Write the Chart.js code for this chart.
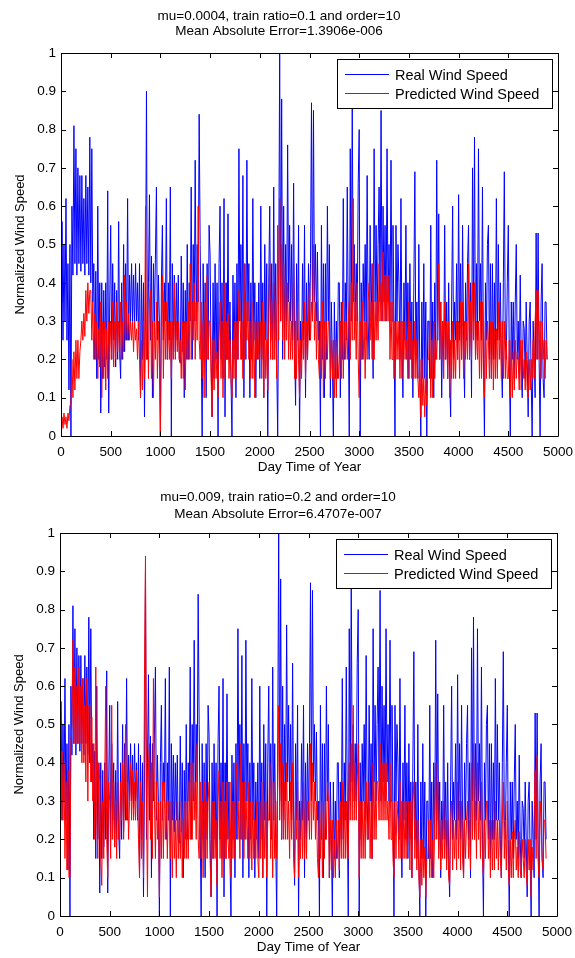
<!DOCTYPE html>
<html>
<head>
<meta charset="utf-8">
<script src="https://cdn.jsdelivr.net/npm/chart.js@4.4.1/dist/chart.umd.min.js"></script>
<style>
  html, body { margin: 0; padding: 0; background: #fff; }
  #wrap { position: relative; width: 575px; height: 958px; overflow: hidden; }
  canvas { position: absolute; }
</style>
</head>
<body>
<div id="wrap">
  <canvas id="topChart" width="575" height="480" style="left:0;top:0"></canvas>
  <canvas id="bottomChart" width="575" height="480" style="left:-1px;top:480px"></canvas>
</div>
<script>
// sampling step of the series (day time units), one row = 100 units
const step = 10;

// real wind speed (same measured series in both subplots)
const realSpeed = [
  0.35, 0.56, 0.25, 0.5, 0.3, 0.62, 0.25, 0.45, 0.12, 0.5,
  0.0, 0.6, 0.42, 0.81, 0.45, 0.75, 0.42, 0.7, 0.45, 0.68,
  0.43, 0.68, 0.45, 0.62, 0.42, 0.68, 0.45, 0.65, 0.42, 0.78,
  0.4, 0.75, 0.35, 0.45, 0.2, 0.43, 0.15, 0.6, 0.2, 0.4,
  0.06, 0.4, 0.15, 0.38, 0.18, 0.4, 0.2, 0.64, 0.06, 0.35,
  0.55, 0.2, 0.45, 0.25, 0.4, 0.18, 0.38, 0.2, 0.56, 0.22,
  0.15, 0.4, 0.2, 0.5, 0.22, 0.45, 0.25, 0.62, 0.25, 0.42,
  0.3, 0.45, 0.3, 0.42, 0.28, 0.45, 0.3, 0.4, 0.25, 0.45,
  0.1, 0.42, 0.2, 0.4, 0.05, 0.35, 0.9, 0.2, 0.4, 0.63,
  0.25, 0.47, 0.1, 0.45, 0.3, 0.47, 0.65, 0.25, 0.42, 0.3,
  0.0, 0.4, 0.55, 0.25, 0.4, 0.3, 0.62, 0.2, 0.4, 0.25,
  0.65, 0.0, 0.45, 0.25, 0.42, 0.22, 0.4, 0.25, 0.42, 0.2,
  0.19, 0.47, 0.22, 0.4, 0.1, 0.38, 0.2, 0.5, 0.2, 0.4,
  0.3, 0.65, 0.2, 0.5, 0.3, 0.72, 0.3, 0.5, 0.35, 0.84,
  0.5, 0.25, 0.0, 0.45, 0.2, 0.4, 0.1, 0.45, 0.2, 0.55,
  0.47, 0.2, 0.05, 0.4, 0.15, 0.45, 0.2, 0.4, 0.0, 0.45,
  0.6, 0.2, 0.4, 0.15, 0.62, 0.05, 0.4, 0.2, 0.58, 0.2,
  0.35, 0.15, 0.0, 0.42, 0.2, 0.4, 0.1, 0.45, 0.2, 0.75,
  0.3, 0.5, 0.2, 0.68, 0.1, 0.45, 0.2, 0.72, 0.3, 0.45,
  0.1, 0.4, 0.2, 0.62, 0.25, 0.4, 0.1, 0.35, 0.2, 0.4,
  0.15, 0.6, 0.2, 0.4, 0.1, 0.5, 0.25, 0.45, 0.0, 0.4,
  0.6, 0.25, 0.45, 0.2, 0.65, 0.25, 0.45, 0.2, 0.0, 0.4,
  1.0, 0.3, 0.88, 0.2, 0.6, 0.25, 0.5, 0.3, 0.76, 0.35,
  0.55, 0.3, 0.5, 0.25, 0.66, 0.25, 0.08, 0.45, 0.25, 0.55,
  0.0, 0.3, 0.2, 0.45, 0.25, 0.55, 0.1, 0.4, 0.2, 0.45,
  0.25, 0.45, 0.87, 0.3, 0.85, 0.35, 0.5, 0.3, 0.48, 0.25,
  0.3, 0.0, 0.55, 0.2, 0.45, 0.1, 0.45, 0.2, 0.6, 0.3,
  0.5, 0.1, 0.35, 0.2, 0.0, 0.35, 0.15, 0.3, 0.15, 0.4,
  0.4, 0.1, 0.35, 0.2, 0.62, 0.2, 0.4, 0.25, 0.65, 0.3,
  0.0, 0.75, 0.3, 0.88, 0.35, 0.5, 0.3, 0.45, 0.3, 0.66,
  0.8, 0.0, 0.4, 0.2, 0.45, 0.3, 0.5, 0.25, 0.68, 0.3,
  0.2, 0.55, 0.3, 0.45, 0.15, 0.75, 0.35, 0.55, 0.3, 0.5,
  0.65, 0.35, 0.85, 0.3, 0.6, 0.35, 0.55, 0.3, 0.75, 0.35,
  0.5, 0.3, 0.72, 0.3, 0.55, 0.3, 0.0, 0.55, 0.3, 0.5,
  0.4, 0.2, 0.62, 0.25, 0.1, 0.4, 0.25, 0.55, 0.2, 0.4,
  0.15, 0.45, 0.2, 0.35, 0.1, 0.4, 0.69, 0.2, 0.35, 0.15,
  0.5, 0.15, 0.0, 0.35, 0.15, 0.45, 0.15, 0.35, 0.0, 0.3,
  0.3, 0.15, 0.55, 0.15, 0.35, 0.1, 0.4, 0.2, 0.72, 0.25,
  0.58, 0.2, 0.35, 0.1, 0.3, 0.2, 0.55, 0.2, 0.35, 0.15,
  0.4, 0.15, 0.05, 0.35, 0.6, 0.2, 0.35, 0.25, 0.45, 0.2,
  0.63, 0.25, 0.45, 0.2, 0.55, 0.25, 0.1, 0.4, 0.25, 0.45,
  0.55, 0.2, 0.4, 0.1, 0.7, 0.3, 0.78, 0.2, 0.45, 0.25,
  0.75, 0.3, 0.45, 0.25, 0.65, 0.2, 0.0, 0.4, 0.25, 0.5,
  0.55, 0.2, 0.45, 0.15, 0.45, 0.2, 0.4, 0.2, 0.62, 0.25,
  0.5, 0.25, 0.4, 0.2, 0.1, 0.4, 0.69, 0.25, 0.2, 0.4,
  0.55, 0.2, 0.0, 0.35, 0.2, 0.35, 0.15, 0.35, 0.5, 0.2,
  0.3, 0.15, 0.42, 0.2, 0.1, 0.3, 0.28, 0.15, 0.35, 0.2,
  0.05, 0.3, 0.35, 0.15, 0.0, 0.3, 0.2, 0.1, 0.53, 0.2,
  0.53, 0.2, 0.0, 0.35, 0.45, 0.15, 0.1, 0.35, 0.35, 0.2
];

// predicted wind speed, mu=0.0004, train ratio=0.1
const predictedTop = [
  0.03, 0.05, 0.02, 0.06, 0.03, 0.05, 0.02, 0.06, 0.04, 0.08,
  0.08, 0.2, 0.1, 0.22, 0.12, 0.25, 0.15, 0.25, 0.15, 0.22,
  0.25, 0.3, 0.25, 0.32, 0.26, 0.38, 0.3, 0.4, 0.32, 0.38,
  0.38, 0.25, 0.35, 0.2, 0.32, 0.2, 0.3, 0.15, 0.28, 0.18,
  0.35, 0.1, 0.3, 0.15, 0.3, 0.12, 0.28, 0.15, 0.3, 0.2,
  0.3, 0.2, 0.35, 0.18, 0.3, 0.2, 0.35, 0.22, 0.3, 0.2,
  0.35, 0.2, 0.3, 0.22, 0.42, 0.25, 0.35, 0.25, 0.32, 0.25,
  0.3, 0.25, 0.3, 0.22, 0.3, 0.25, 0.28, 0.2, 0.3, 0.2,
  0.1, 0.25, 0.12, 0.3, 0.15, 0.6, 0.2, 0.35, 0.15, 0.35,
  0.38, 0.15, 0.3, 0.1, 0.3, 0.2, 0.35, 0.15, 0.3, 0.2,
  0.0, 0.3, 0.42, 0.15, 0.35, 0.2, 0.35, 0.2, 0.3, 0.2,
  0.3, 0.15, 0.3, 0.2, 0.4, 0.2, 0.3, 0.22, 0.3, 0.2,
  0.25, 0.15, 0.3, 0.15, 0.3, 0.12, 0.3, 0.2, 0.35, 0.2,
  0.45, 0.2, 0.35, 0.25, 0.4, 0.2, 0.35, 0.25, 0.6, 0.25,
  0.2, 0.35, 0.15, 0.3, 0.1, 0.35, 0.2, 0.42, 0.2, 0.3,
  0.3, 0.15, 0.05, 0.25, 0.12, 0.25, 0.15, 0.22, 0.1, 0.25,
  0.35, 0.15, 0.3, 0.1, 0.4, 0.15, 0.3, 0.2, 0.32, 0.15,
  0.25, 0.15, 0.1, 0.25, 0.15, 0.3, 0.15, 0.3, 0.2, 0.38,
  0.35, 0.2, 0.3, 0.15, 0.45, 0.2, 0.35, 0.25, 0.35, 0.2,
  0.3, 0.15, 0.35, 0.15, 0.3, 0.1, 0.3, 0.2, 0.3, 0.2,
  0.2, 0.3, 0.15, 0.35, 0.1, 0.3, 0.15, 0.25, 0.12, 0.3,
  0.45, 0.2, 0.35, 0.2, 0.4, 0.2, 0.35, 0.15, 0.55, 0.25,
  0.62, 0.3, 0.5, 0.25, 0.45, 0.2, 0.4, 0.25, 0.4, 0.2,
  0.35, 0.2, 0.3, 0.2, 0.45, 0.15, 0.3, 0.15, 0.35, 0.2,
  0.1, 0.25, 0.15, 0.3, 0.2, 0.35, 0.15, 0.3, 0.2, 0.3,
  0.4, 0.25, 0.35, 0.3, 0.5, 0.25, 0.35, 0.2, 0.35, 0.2,
  0.15, 0.3, 0.15, 0.35, 0.1, 0.3, 0.15, 0.3, 0.2, 0.3,
  0.3, 0.15, 0.25, 0.15, 0.25, 0.1, 0.25, 0.1, 0.25, 0.15,
  0.2, 0.3, 0.15, 0.35, 0.15, 0.3, 0.2, 0.3, 0.2, 0.3,
  0.35, 0.2, 0.4, 0.25, 0.62, 0.25, 0.35, 0.2, 0.4, 0.2,
  0.1, 0.3, 0.2, 0.35, 0.2, 0.3, 0.15, 0.3, 0.2, 0.35,
  0.4, 0.25, 0.35, 0.2, 0.45, 0.2, 0.35, 0.25, 0.35, 0.25,
  0.45, 0.3, 0.4, 0.3, 0.48, 0.3, 0.42, 0.3, 0.42, 0.3,
  0.42, 0.2, 0.35, 0.2, 0.35, 0.15, 0.3, 0.2, 0.3, 0.2,
  0.3, 0.15, 0.3, 0.15, 0.3, 0.2, 0.3, 0.2, 0.25, 0.15,
  0.35, 0.2, 0.3, 0.15, 0.25, 0.15, 0.3, 0.15, 0.25, 0.15,
  0.1, 0.2, 0.05, 0.2, 0.08, 0.15, 0.05, 0.15, 0.08, 0.2,
  0.2, 0.3, 0.1, 0.25, 0.1, 0.3, 0.15, 0.25, 0.2, 0.3,
  0.45, 0.2, 0.35, 0.2, 0.3, 0.15, 0.35, 0.2, 0.3, 0.15,
  0.3, 0.1, 0.25, 0.15, 0.3, 0.15, 0.25, 0.15, 0.3, 0.2,
  0.3, 0.15, 0.35, 0.2, 0.35, 0.15, 0.3, 0.2, 0.3, 0.2,
  0.45, 0.2, 0.35, 0.2, 0.4, 0.25, 0.4, 0.2, 0.3, 0.2,
  0.3, 0.15, 0.35, 0.15, 0.35, 0.15, 0.1, 0.3, 0.15, 0.3,
  0.25, 0.15, 0.3, 0.15, 0.3, 0.12, 0.28, 0.15, 0.28, 0.15,
  0.35, 0.2, 0.3, 0.15, 0.3, 0.15, 0.3, 0.15, 0.25, 0.15,
  0.15, 0.25, 0.1, 0.25, 0.1, 0.22, 0.12, 0.25, 0.15, 0.22,
  0.2, 0.12, 0.25, 0.12, 0.25, 0.15, 0.2, 0.12, 0.22, 0.12,
  0.1, 0.2, 0.12, 0.2, 0.15, 0.25, 0.15, 0.3, 0.38, 0.2,
  0.38, 0.2, 0.3, 0.15, 0.3, 0.2, 0.25, 0.15, 0.25, 0.2
];

// predicted wind speed, mu=0.009, train ratio=0.2
const predictedBottom = [
  0.4, 0.3, 0.43, 0.25, 0.4, 0.15, 0.35, 0.12, 0.38, 0.1,
  0.1, 0.45, 0.5, 0.72, 0.45, 0.65, 0.45, 0.6, 0.45, 0.65,
  0.45, 0.6, 0.4, 0.62, 0.4, 0.55, 0.35, 0.62, 0.3, 0.55,
  0.55, 0.35, 0.52, 0.3, 0.45, 0.2, 0.65, 0.25, 0.15, 0.4,
  0.35, 0.15, 0.08, 0.3, 0.15, 0.35, 0.6, 0.2, 0.1, 0.35,
  0.3, 0.15, 0.55, 0.2, 0.35, 0.18, 0.3, 0.15, 0.35, 0.2,
  0.2, 0.35, 0.25, 0.4, 0.2, 0.35, 0.5, 0.25, 0.35, 0.2,
  0.3, 0.4, 0.25, 0.38, 0.25, 0.35, 0.25, 0.38, 0.3, 0.2,
  0.1, 0.35, 0.15, 0.3, 0.1, 0.63, 0.94, 0.3, 0.05, 0.4,
  0.45, 0.2, 0.4, 0.15, 0.62, 0.3, 0.15, 0.35, 0.2, 0.3,
  0.05, 0.3, 0.15, 0.35, 0.15, 0.35, 0.2, 0.3, 0.15, 0.3,
  0.3, 0.15, 0.3, 0.1, 0.3, 0.15, 0.25, 0.1, 0.3, 0.15,
  0.25, 0.15, 0.3, 0.1, 0.25, 0.15, 0.3, 0.15, 0.3, 0.15,
  0.35, 0.2, 0.4, 0.2, 0.4, 0.25, 0.35, 0.2, 0.45, 0.2,
  0.15, 0.35, 0.15, 0.3, 0.1, 0.35, 0.15, 0.3, 0.15, 0.3,
  0.35, 0.15, 0.05, 0.3, 0.15, 0.3, 0.15, 0.25, 0.08, 0.3,
  0.38, 0.15, 0.3, 0.1, 0.35, 0.15, 0.3, 0.15, 0.35, 0.2,
  0.15, 0.35, 0.1, 0.3, 0.15, 0.3, 0.15, 0.35, 0.4, 0.2,
  0.3, 0.15, 0.45, 0.2, 0.35, 0.15, 0.35, 0.2, 0.3, 0.15,
  0.35, 0.15, 0.3, 0.12, 0.3, 0.15, 0.25, 0.15, 0.3, 0.15,
  0.1, 0.3, 0.15, 0.35, 0.1, 0.3, 0.15, 0.3, 0.1, 0.25,
  0.25, 0.4, 0.15, 0.35, 0.1, 0.35, 0.15, 0.3, 0.15, 0.35,
  0.55, 0.25, 0.45, 0.2, 0.4, 0.2, 0.35, 0.2, 0.4, 0.2,
  0.3, 0.15, 0.35, 0.2, 0.4, 0.15, 0.1, 0.3, 0.2, 0.35,
  0.1, 0.25, 0.15, 0.3, 0.15, 0.35, 0.15, 0.3, 0.15, 0.3,
  0.3, 0.2, 0.45, 0.2, 0.4, 0.25, 0.35, 0.2, 0.3, 0.15,
  0.1, 0.3, 0.15, 0.3, 0.1, 0.3, 0.15, 0.3, 0.2, 0.35,
  0.3, 0.1, 0.25, 0.12, 0.25, 0.1, 0.2, 0.1, 0.25, 0.15,
  0.25, 0.12, 0.3, 0.15, 0.35, 0.15, 0.3, 0.15, 0.3, 0.15,
  0.15, 0.4, 0.25, 0.45, 0.25, 0.55, 0.25, 0.4, 0.25, 0.35,
  0.45, 0.1, 0.3, 0.15, 0.3, 0.15, 0.3, 0.15, 0.35, 0.2,
  0.2, 0.35, 0.15, 0.3, 0.15, 0.4, 0.2, 0.35, 0.2, 0.35,
  0.35, 0.25, 0.45, 0.25, 0.4, 0.25, 0.4, 0.25, 0.4, 0.25,
  0.3, 0.2, 0.4, 0.2, 0.3, 0.15, 0.1, 0.3, 0.15, 0.3,
  0.25, 0.15, 0.35, 0.15, 0.3, 0.15, 0.3, 0.15, 0.3, 0.15,
  0.2, 0.3, 0.12, 0.3, 0.1, 0.3, 0.35, 0.15, 0.25, 0.12,
  0.25, 0.1, 0.05, 0.2, 0.08, 0.2, 0.1, 0.18, 0.05, 0.15,
  0.15, 0.25, 0.1, 0.25, 0.1, 0.2, 0.1, 0.25, 0.4, 0.2,
  0.35, 0.15, 0.25, 0.12, 0.25, 0.15, 0.3, 0.15, 0.25, 0.12,
  0.25, 0.1, 0.08, 0.25, 0.3, 0.12, 0.25, 0.15, 0.25, 0.12,
  0.35, 0.15, 0.3, 0.12, 0.3, 0.15, 0.1, 0.25, 0.15, 0.25,
  0.3, 0.15, 0.25, 0.12, 0.4, 0.2, 0.45, 0.2, 0.3, 0.15,
  0.4, 0.2, 0.3, 0.15, 0.35, 0.15, 0.1, 0.25, 0.15, 0.3,
  0.3, 0.15, 0.25, 0.1, 0.25, 0.12, 0.25, 0.12, 0.3, 0.15,
  0.25, 0.12, 0.25, 0.15, 0.1, 0.25, 0.35, 0.15, 0.25, 0.12,
  0.3, 0.12, 0.08, 0.2, 0.1, 0.22, 0.1, 0.2, 0.25, 0.12,
  0.18, 0.1, 0.22, 0.12, 0.1, 0.2, 0.15, 0.1, 0.2, 0.12,
  0.08, 0.2, 0.12, 0.2, 0.05, 0.18, 0.12, 0.25, 0.38, 0.15,
  0.42, 0.15, 0.1, 0.3, 0.25, 0.15, 0.12, 0.25, 0.25, 0.15
];

const topTitle = ['mu=0.0004, train ratio=0.1 and order=10', 'Mean Absolute Error=1.3906e-006'];
const bottomTitle = ['mu=0.009, train ratio=0.2 and order=10', 'Mean Absolute Error=6.4707e-007'];
const seriesLabels = ['Real Wind Speed', 'Predicted Wind Speed'];
const seriesColors = ['#0000ff', '#ff0000'];

const FONT = '"Liberation Sans", Arial, sans-serif';

const toPoints = arr => arr.map((v, i) => ({ x: i * step, y: v }));

// matlab style box with inward ticks on all sides
const axesBox = {
  id: 'axesBox',
  afterDatasetsDraw(chart) {
    const { ctx, chartArea: a, scales: { x, y } } = chart;
    const len = 5;
    ctx.save();
    ctx.strokeStyle = '#000';
    ctx.lineWidth = 1;
    ctx.beginPath();
    ctx.rect(Math.round(a.left) + 0.5, Math.round(a.top) + 0.5, Math.round(a.right - a.left), Math.round(a.bottom - a.top));
    x.ticks.forEach(t => {
      const px = Math.round(x.getPixelForValue(t.value)) + 0.5;
      ctx.moveTo(px, a.bottom); ctx.lineTo(px, a.bottom - len);
      ctx.moveTo(px, a.top); ctx.lineTo(px, a.top + len);
    });
    y.ticks.forEach(t => {
      const py = Math.round(y.getPixelForValue(t.value)) + 0.5;
      ctx.moveTo(a.left, py); ctx.lineTo(a.left + len, py);
      ctx.moveTo(a.right, py); ctx.lineTo(a.right - len, py);
    });
    ctx.stroke();
    ctx.restore();
  }
};

// legend box inside the axes, upper right
const boxLegend = {
  id: 'boxLegend',
  afterDraw(chart) {
    const { ctx, chartArea: a } = chart;
    const w = 215, h = 49;
    const x0 = Math.round(a.right) - 6 - w, y0 = Math.round(a.top) + 6;
    ctx.save();
    ctx.fillStyle = '#fff';
    ctx.fillRect(x0, y0, w, h);
    ctx.strokeStyle = '#000';
    ctx.lineWidth = 1;
    ctx.strokeRect(x0 + 0.5, y0 + 0.5, w, h);
    ctx.font = '14.5px ' + FONT;
    ctx.textBaseline = 'middle';
    chart.data.datasets.forEach((ds, i) => {
      const cy = y0 + 15 + i * 19 + 0.5;
      ctx.strokeStyle = ds.borderColor;
      ctx.beginPath();
      ctx.moveTo(x0 + 8, cy);
      ctx.lineTo(x0 + 52, cy);
      ctx.stroke();
      ctx.fillStyle = '#000';
      ctx.fillText(ds.label, x0 + 58, cy + 1);
    });
    ctx.restore();
  }
};

function makeChart(id, title, predicted, titleLineHeight, titlePad) {
  return new Chart(document.getElementById(id), {
    type: 'line',
    data: {
      datasets: [
        {
          label: seriesLabels[0],
          data: toPoints(realSpeed),
          borderColor: seriesColors[0],
          borderWidth: 1,
          pointRadius: 0,
          tension: 0,
          order: 2
        },
        {
          label: seriesLabels[1],
          data: toPoints(predicted),
          borderColor: seriesColors[1],
          borderWidth: 1,
          pointRadius: 0,
          tension: 0,
          order: 1
        }
      ]
    },
    options: {
      responsive: false,
      animation: false,
      devicePixelRatio: 1,
      layout: { padding: { left: 0, right: 17, top: 0, bottom: 0 } },
      plugins: {
        legend: { display: false },
        tooltip: { enabled: false },
        title: {
          display: true,
          text: title,
          color: '#000',
          font: { family: FONT, size: 13.5, weight: 'normal', lineHeight: titleLineHeight },
          padding: titlePad
        }
      },
      scales: {
        x: {
          type: 'linear',
          min: 0,
          max: 5000,
          grid: { display: false, drawTicks: false },
          border: { display: false },
          ticks: {
            stepSize: 500, autoSkip: false, maxRotation: 0, color: '#000', padding: 8,
            font: { family: FONT, size: 13.5 },
            callback: v => String(v)
          },
          title: { display: true, text: 'Day Time of Year', color: '#000', font: { family: FONT, size: 13.5 }, padding: { top: 0, bottom: 5 } },
          afterFit: s => { s.height = 44; s.paddingLeft = 0; s.paddingRight = 0; }
        },
        y: {
          min: 0,
          max: 1,
          grid: { display: false, drawTicks: false },
          border: { display: false },
          ticks: {
            stepSize: 0.1, color: '#000', padding: 5,
            font: { family: FONT, size: 13.5 },
            callback: v => String(Math.round(v * 10) / 10)
          },
          title: { display: true, text: 'Normalized Wind Speed', color: '#000', font: { family: FONT, size: 13 }, padding: { top: 13, bottom: 0 } },
          afterFit: s => { s.width = 61; s.paddingTop = 0; s.paddingBottom = 0; }
        }
      }
    },
    plugins: [axesBox, boxLegend]
  });
}

makeChart('topChart', topTitle, predictedTop, 1.11, { top: 9, bottom: 14 });
makeChart('bottomChart', bottomTitle, predictedBottom, 1.25, { top: 9, bottom: 10.2 });
</script>
</body>
</html>
